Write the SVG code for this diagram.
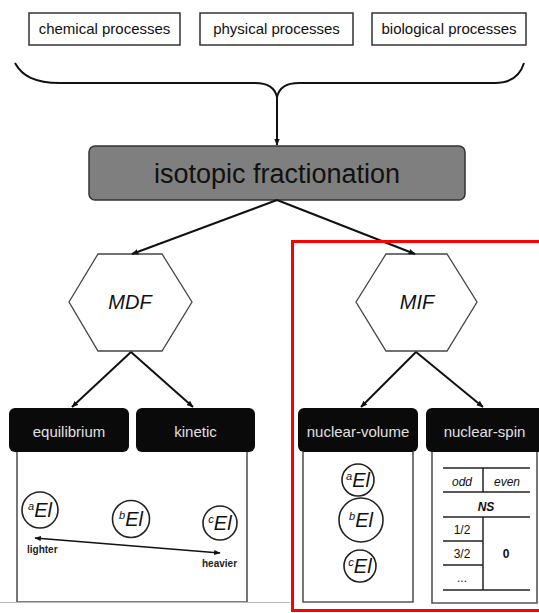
<svg xmlns="http://www.w3.org/2000/svg" width="539" height="613" viewBox="0 0 539 613">
<defs>
<style>
text{font-family:"Liberation Sans",Arial,sans-serif;}
.proc{fill:#fff;stroke:#333;stroke-width:1.5;}
.proct{font-size:15px;fill:#111;text-anchor:middle;}
.hex{fill:#fff;stroke:#444;stroke-width:1.3;}
.hext{font-size:20px;font-style:italic;fill:#111;text-anchor:middle;}
.blk{fill:#0a0a0a;}
.blkt{font-size:15px;fill:#e0e0e0;text-anchor:middle;}
.panel{fill:#fff;stroke:#555;stroke-width:1.6;}
.conn{stroke:#111;stroke-width:2;fill:none;}
.iso{fill:#fff;stroke:#222;stroke-width:1.6;}
.el{font-size:20px;font-style:italic;fill:#111;text-anchor:middle;}
.tl{stroke:#222;stroke-width:1.5;}
.tt{font-size:12px;fill:#111;text-anchor:middle;}
</style>
<marker id="ah" viewBox="0 0 10 10" refX="9" refY="5" markerWidth="3.5" markerHeight="3.5" orient="auto-start-reverse">
<path d="M0,1 L10,5 L0,9 z" fill="#111"/>
</marker>
<marker id="ah2" viewBox="0 0 10 10" refX="9" refY="5" markerWidth="5" markerHeight="5" orient="auto-start-reverse">
<path d="M0,1 L10,5 L0,9 z" fill="#111"/>
</marker>
</defs>
<rect width="539" height="613" fill="#fff"/>

<g id="chemical">
<rect class="proc" x="29" y="13" width="151" height="32"/>
<text class="proct" x="104.5" y="34">chemical processes</text>
</g>
<g id="physical">
<rect class="proc" x="200" y="13" width="153" height="32"/>
<text class="proct" x="276.5" y="34">physical processes</text>
</g>
<g id="biological">
<rect class="proc" x="372" y="13" width="154" height="32"/>
<text class="proct" x="449" y="34">biological processes</text>
</g>

<g id="isotopic">
<rect x="89" y="146" width="376" height="54" rx="6" fill="#7f7f7f" stroke="#333" stroke-width="1.5"/>
<text x="277" y="183" font-size="27" fill="#111" text-anchor="middle">isotopic fractionation</text>
</g>

<g id="MDF">
<polygon class="hex" points="69,302 98,254 162,254 192,302 162,351 98,351"/>
<text class="hext" x="130" y="309">MDF</text>
</g>
<g id="MIF">
<polygon class="hex" points="356,302 386,254 447,254 477,302 447,351 386,351"/>
<text class="hext" x="417" y="309">MIF</text>
</g>

<g id="equilibrium">
<rect class="blk" x="9" y="408" width="120" height="44" rx="6"/>
<text class="blkt" x="69" y="437">equilibrium</text>
</g>
<g id="kinetic">
<rect class="blk" x="136" y="408" width="119" height="44" rx="6"/>
<text class="blkt" x="195.5" y="437">kinetic</text>
</g>
<g id="nuclear-volume">
<rect class="blk" x="298" y="408" width="120" height="44" rx="6"/>
<text class="blkt" x="358" y="437">nuclear-volume</text>
</g>
<g id="nuclear-spin">
<rect class="blk" x="426" y="408" width="120" height="44" rx="6"/>
<text class="blkt" x="484.5" y="437">nuclear-spin</text>
</g>

<g id="mdf-panel">
<path d="M17,452 V602 H247 V452" class="panel"/>
<line x1="0" y1="602.5" x2="290" y2="602.5" stroke="#bbb" stroke-width="1"/>
<circle class="iso" cx="40" cy="510" r="18"/>
<text class="el" x="40" y="517"><tspan font-size="11" dy="-7">a</tspan><tspan dy="7">El</tspan></text>
<circle class="iso" cx="131" cy="519" r="18.5"/>
<text class="el" x="131" y="526"><tspan font-size="11" dy="-7">b</tspan><tspan dy="7">El</tspan></text>
<circle class="iso" cx="220" cy="523" r="17"/>
<text class="el" x="220" y="530"><tspan font-size="11" dy="-7">c</tspan><tspan dy="7">El</tspan></text>
<line x1="35" y1="538" x2="220" y2="553" stroke="#111" stroke-width="1.3" marker-start="url(#ah2)" marker-end="url(#ah2)"/>
<text x="27" y="553" font-size="10" font-weight="bold" fill="#222">lighter</text>
<text x="202" y="567" font-size="10" font-weight="bold" fill="#222">heavier</text>
</g>

<g id="nv-panel">
<path d="M303,452 V602 H413 V452" class="panel"/>
<circle class="iso" cx="358" cy="480" r="16"/>
<text class="el" x="358" y="487"><tspan font-size="11" dy="-7">a</tspan><tspan dy="7">El</tspan></text>
<circle class="iso" cx="361" cy="520" r="22"/>
<text class="el" x="361" y="527"><tspan font-size="11" dy="-7">b</tspan><tspan dy="7">El</tspan></text>
<circle class="iso" cx="360" cy="566" r="16"/>
<text class="el" x="360" y="573"><tspan font-size="11" dy="-7">c</tspan><tspan dy="7">El</tspan></text>
</g>

<g id="ns-panel">
<path d="M432,452 V603 H537 V452" class="panel"/>
<line class="tl" x1="443" y1="468" x2="530" y2="468" stroke-width="2.5"/>
<line class="tl" x1="443" y1="492" x2="530" y2="492"/>
<line class="tl" x1="443" y1="517" x2="530" y2="517"/>
<line class="tl" x1="443" y1="541" x2="483" y2="541"/>
<line class="tl" x1="443" y1="565" x2="483" y2="565"/>
<line class="tl" x1="443" y1="590" x2="530" y2="590" stroke-width="2.5"/>
<line class="tl" x1="483" y1="468" x2="483" y2="492"/>
<line class="tl" x1="483" y1="517" x2="483" y2="590"/>
<text class="tt" x="462" y="486" font-style="italic">odd</text>
<text class="tt" x="507" y="486" font-style="italic">even</text>
<text class="tt" x="486" y="511" font-style="italic" font-weight="bold">NS</text>
<text class="tt" x="462" y="534">1/2</text>
<text class="tt" x="462" y="558">3/2</text>
<text class="tt" x="462" y="582" fill="#999">...</text>
<text class="tt" x="506" y="558" font-weight="bold">0</text>
</g>

<g id="connectors">
<path class="conn" d="M15,63 C22,76 35,83 60,83 H255 C268,83 275,88 277,97 C279,88 286,83 299,83 H495 C510,83 520,76 524,63"/>
<line class="conn" x1="277" y1="97" x2="277" y2="145" marker-end="url(#ah)"/>
<line class="conn" x1="277" y1="200" x2="132" y2="254" marker-end="url(#ah)"/>
<line class="conn" x1="277" y1="200" x2="415" y2="254" marker-end="url(#ah)"/>
<line class="conn" x1="131" y1="352" x2="72" y2="407" marker-end="url(#ah)"/>
<line class="conn" x1="131" y1="352" x2="193" y2="407" marker-end="url(#ah)"/>
<line class="conn" x1="416" y1="352" x2="361" y2="407" marker-end="url(#ah)"/>
<line class="conn" x1="416" y1="352" x2="483" y2="407" marker-end="url(#ah)"/>
</g>

<rect id="highlight" x="292.5" y="241.5" width="250" height="369" fill="none" stroke="#f00" stroke-width="3"/>
</svg>
